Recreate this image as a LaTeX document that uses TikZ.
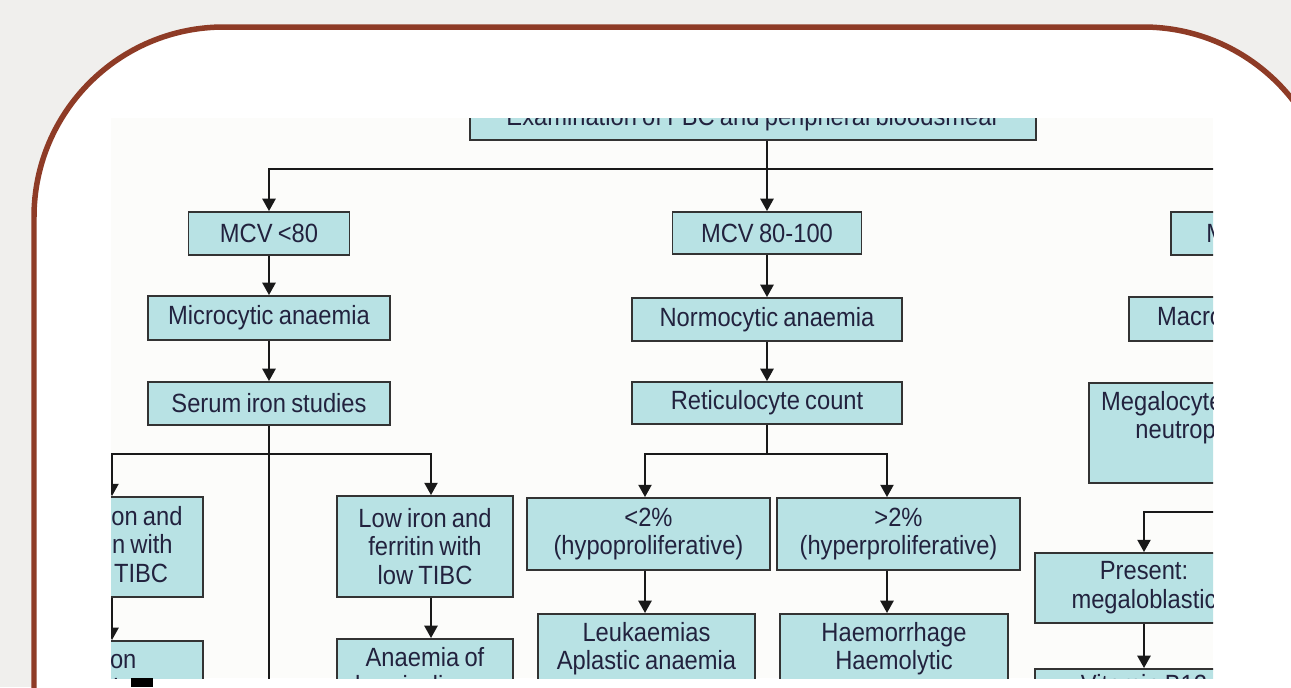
\documentclass[tikz,border=0pt]{standalone}
\usepackage{fontspec}
\setmainfont{Liberation Sans}[FakeStretch=0.9,WordSpace=0.8]
\usetikzlibrary{arrows.meta}
\definecolor{slidebg}{HTML}{F0EFED}
\definecolor{framebrown}{HTML}{8E3B26}
\definecolor{chartbg}{HTML}{FCFCFA}
\definecolor{boxfill}{HTML}{B8E2E4}
\definecolor{inkblue}{HTML}{22223E}

\begin{document}
\begin{tikzpicture}[x=0.02cm,y=-0.02cm,
    box/.style={draw=black!80, line width=1.1pt, fill=boxfill, text=inkblue,
                align=center, inner sep=0pt, font=\fontsize{15}{16.4}\selectfont},
    cutbox/.style 2 args={box, anchor=north, inner ysep=0.18cm, text height=#1, text depth=#2},
    bus/.style={line width=1.1pt, draw=black!90},
    arr/.style={bus, -{Triangle[length=7pt,width=7.5pt]}}]
    \clip (0,0) rectangle (1291,687);
    \fill[slidebg] (0,0) rectangle (1291,687);
    \draw[framebrown, line width=0.11cm, fill=white, rounded corners=3.8cm] (34,27) rectangle (1333,1200);
    \fill[chartbg] (111,118) rectangle (1213,678);

    \begin{scope}
    \clip (111,118) rectangle (1213,678);
    \node[box, minimum width=11.32cm, minimum height=0.84cm] (exam) at (753,119) {Examination of FBC and peripheral bloodsmear};

    \node[box, minimum width=3.22cm, minimum height=0.86cm] (mcva) at (269,233.5) {MCV <80};
    \node[box, minimum width=3.78cm, minimum height=0.84cm] (mcvb) at (767,233) {MCV 80-100};
    \node[box, minimum width=3.64cm, minimum height=0.86cm] (mcvc) at (1262,233.5) {MCV >100};

    \node[box, minimum width=4.84cm, minimum height=0.88cm] (micro) at (269,318) {Microcytic anaemia};
    \node[box, minimum width=5.40cm, minimum height=0.86cm] (normo) at (767,319.5) {Normocytic anaemia};
    \node[box, minimum width=5.32cm, minimum height=0.88cm] (macro) at (1262,319) {Macrocytic anaemia};

    \node[box, minimum width=4.84cm, minimum height=0.86cm] (serum) at (269,403.5) {Serum iron studies};
    \node[box, minimum width=5.40cm, minimum height=0.84cm] (retic) at (767,403) {Reticulocyte count};
    \node[cutbox={0.94cm}{0.70cm}, minimum width=6.92cm] (mega) at (1262,382) {Megalocytes, hypersegmented\\neutrophils on blood film};

    \node[box, minimum width=3.48cm, minimum height=2.0cm] (lowhigh) at (116,547) {Low iron and\\ferritin with\\high TIBC};
    \node[box, minimum width=3.52cm, minimum height=2.02cm] (lowlow) at (425,546.5) {Low iron and\\ferritin with\\low TIBC};
    \node[box, minimum width=4.86cm, minimum height=1.44cm] (hypo) at (648.5,534) {<2\%\\(hypoproliferative)};
    \node[box, minimum width=4.86cm, minimum height=1.44cm] (hyper) at (898.5,534) {>2\%\\(hyperproliferative)};
    \node[box, minimum width=4.36cm, minimum height=1.40cm] (present) at (1144,588) {Present:\\megaloblastic};

    \node[cutbox={1.52cm}{1cm}, minimum width=3.48cm] (ida) at (116,640) {Iron\\deficiency\\anaemia};
    \node[cutbox={0.94cm}{1cm}, minimum width=3.52cm] (acd) at (425,638) {Anaemia of\\chronic disease};
    \node[cutbox={0.94cm}{1cm}, minimum width=4.34cm] (leuk) at (646.5,613) {Leukaemias\\Aplastic anaemia};
    \node[cutbox={0.94cm}{1cm}, minimum width=4.56cm] (haem) at (894,613) {Haemorrhage\\Haemolytic};
    \node[cutbox={0.32cm}{1cm}, minimum width=4.36cm] (b12) at (1144,668) {Vitamin B12};
    \coordinate (serumend) at (269,720);

    \draw[bus] (exam.south -| mcvb) -- ++(0,28) coordinate (topbus);
    \draw[arr] (topbus) -| (mcva.north);
    \draw[arr] (topbus) -- (mcvb.north);
    \draw[arr] (topbus) -| (mcvc.north);

    \draw[arr] (mcva) -- (micro);
    \draw[arr] (micro) -- (serum);
    \draw[arr] (mcvb) -- (normo);
    \draw[arr] (normo) -- (retic);
    \draw[arr] (mcvc) -- (macro);
    \draw[arr] (macro) -- (mega);

    \draw[bus] (serum.south) -- (serumend);
    \path (serum.south) ++(0,28) coordinate (ironbus);
    \draw[arr] (ironbus) -| ([xshift=-0.08cm]lowhigh.north);
    \draw[arr] (ironbus) -| ([xshift=0.12cm]lowlow.north);
    \draw[arr] ([xshift=-0.08cm]lowhigh.south) -- ([xshift=-0.08cm]ida.north);
    \draw[arr] ([xshift=0.12cm]lowlow.south) -- ([xshift=0.12cm]acd.north);

    \draw[bus] (retic.south) -- ++(0,29) coordinate (reticbus);
    \draw[arr] (reticbus) -| ([xshift=-0.07cm]hypo.north);
    \draw[arr] (reticbus) -| ([xshift=-0.23cm]hyper.north);
    \draw[arr] ([xshift=-0.07cm]hypo.south) -- ([xshift=-0.03cm]leuk.north);
    \draw[arr] ([xshift=-0.23cm]hyper.south) -- ([xshift=-0.14cm]haem.north);

    \draw[arr] (mega.south) -- ++(0,28) -| (present.north);
    \draw[arr] (present) -- (b12);
    \end{scope}

    \fill[black] (131,678) rectangle (153,687);
\end{tikzpicture}
\end{document}
